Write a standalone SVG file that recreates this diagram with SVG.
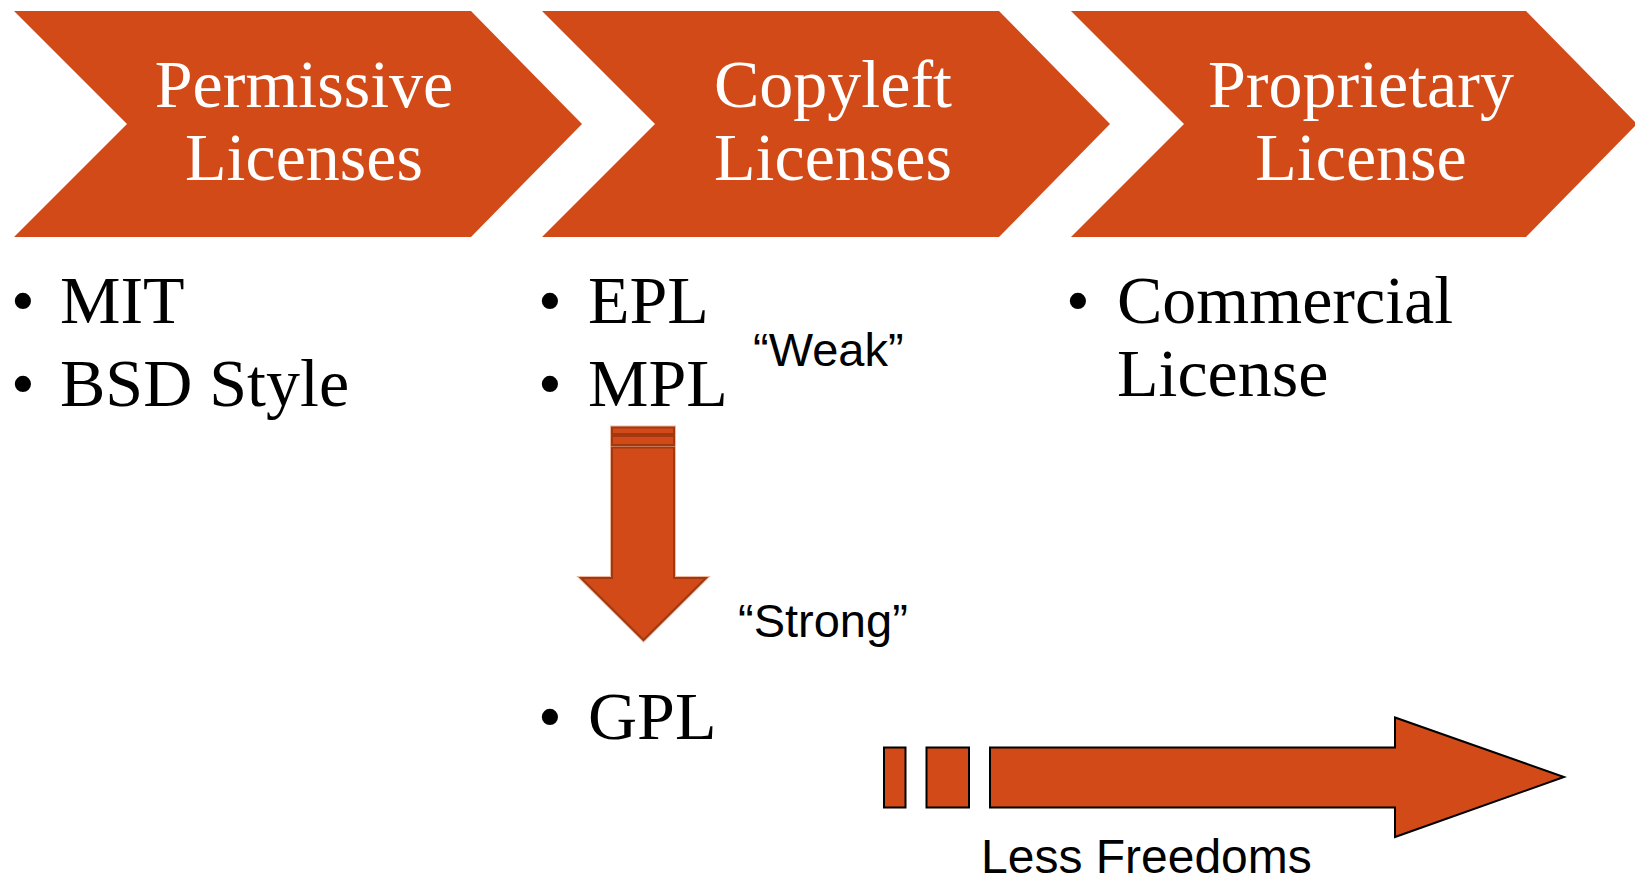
<svg xmlns="http://www.w3.org/2000/svg" width="1635" height="884" viewBox="0 0 1635 884">
<style>
.chev{fill:#D24A18;}
.title{font-family:"Liberation Serif","Times New Roman",serif;font-size:68px;fill:#ffffff;text-anchor:middle;}
.item{font-family:"Liberation Serif","Times New Roman",serif;font-size:68px;fill:#000000;}
.bul{font-family:"Liberation Serif","Times New Roman",serif;font-size:68px;fill:#000000;text-anchor:middle;}
.lbl{font-family:"Liberation Sans",Arial,sans-serif;font-size:47px;fill:#000000;}
.blk{fill:#D24A18;stroke:#000000;stroke-width:2;stroke-linejoin:miter;}
.dhi{fill:none;stroke:#EDB89F;stroke-width:4;}
.dar{fill:#D24A18;stroke:#A1380F;stroke-width:2;}
</style>
<rect width="1635" height="884" fill="#ffffff"/>
<g id="permissive">
<polygon class="chev" points="14,11 471,11 582,124 471,237 14,237 127,124"/>
<text class="title" x="304" y="107">Permissive</text>
<text class="title" x="304" y="180">Licenses</text>
</g>
<g id="copyleft">
<polygon class="chev" points="542,11 999,11 1110,124 999,237 542,237 655,124"/>
<text class="title" x="833" y="107">Copyleft</text>
<text class="title" x="833" y="180">Licenses</text>
</g>
<g id="proprietary">
<polygon class="chev" points="1071,11 1526,11 1637,124 1526,237 1071,237 1184,124"/>
<text class="title" x="1361" y="107">Proprietary</text>
<text class="title" x="1361" y="180">License</text>
</g>
<g id="permissive-list">
<text class="bul" x="23" y="323">•</text>
<text class="item" x="60" y="323">MIT</text>
<text class="bul" x="23" y="406">•</text>
<text class="item" x="60" y="406">BSD Style</text>
</g>
<g id="copyleft-list">
<text class="bul" x="550" y="323">•</text>
<text class="item" x="588" y="323">EPL</text>
<text class="bul" x="550" y="406">•</text>
<text class="item" x="588" y="406">MPL</text>
<text class="bul" x="550" y="739">•</text>
<text class="item" x="588" y="739">GPL</text>
</g>
<g id="proprietary-list">
<text class="bul" x="1078" y="323">•</text>
<text class="item" x="1117" y="323">Commercial</text>
<text class="item" x="1117" y="396">License</text>
</g>
<g id="weak-label"><text class="lbl" x="753" y="366">“Weak”</text></g>
<g id="strong-label"><text class="lbl" x="738" y="637">“Strong”</text></g>
<g id="connectors">
<g id="down-arrow">
<rect class="dhi" x="612" y="427.5" width="62" height="6.5"/>
<rect class="dhi" x="612" y="436" width="62" height="9"/>
<path class="dhi" d="M612,447.5 L674,447.5 L674,578 L706,578 L643.5,640 L581,578 L612,578 Z"/>
<rect class="dar" x="612" y="427.5" width="62" height="6.5"/>
<rect class="dar" x="612" y="436" width="62" height="9"/>
<path class="dar" d="M612,447.5 L674,447.5 L674,578 L706,578 L643.5,640 L581,578 L612,578 Z"/>
</g>
<g id="freedom-arrow">
<rect class="blk" x="884" y="747.5" width="21.5" height="60"/>
<rect class="blk" x="926.5" y="747.5" width="42.5" height="60"/>
<path class="blk" d="M990,747.5 L1395,747.5 L1395,717.5 L1564,777 L1395,837 L1395,807.5 L990,807.5 Z"/>
</g>
</g>
<g id="less-freedoms-label"><text class="lbl" x="981" y="873" style="font-size:48px">Less Freedoms</text></g>
</svg>
